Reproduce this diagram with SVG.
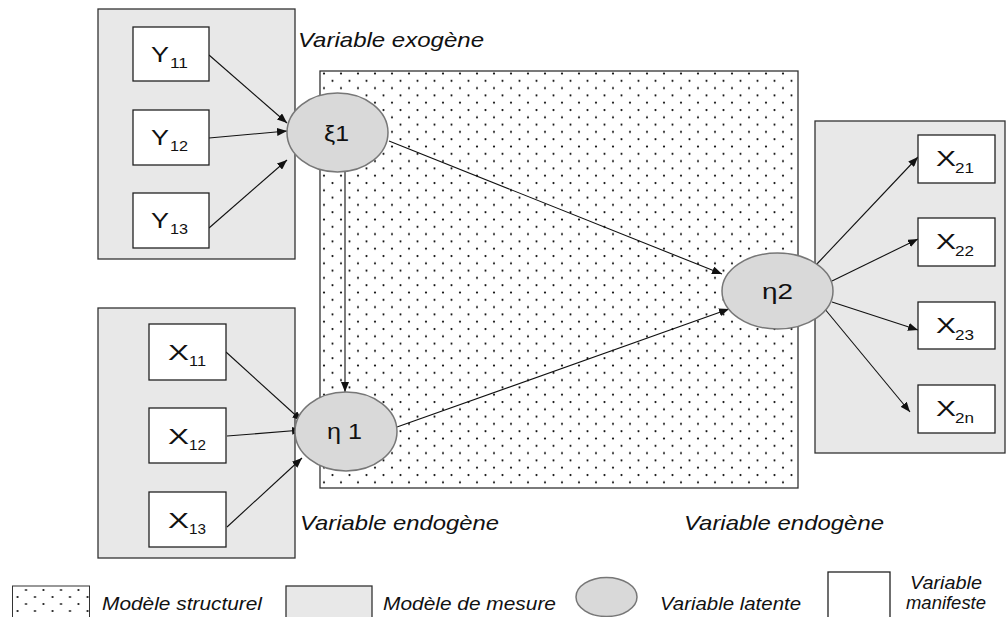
<svg xmlns="http://www.w3.org/2000/svg" width="1008" height="617" viewBox="0 0 1008 617">
<style>
.gbox{fill:#e8e8e8;stroke:#333;stroke-width:1.3}
.mbox{fill:#fff;stroke:#222;stroke-width:1.3}
.lat{fill:#d9d9d9;stroke:#777;stroke-width:1.5}
.conn{stroke:#111;stroke-width:1.1;fill:none;marker-end:url(#ah)}
.t{font-family:"Liberation Sans",Arial,sans-serif;fill:#111}
.big{font-size:22px}
.sub{font-size:15px}
.lab{font-family:"Liberation Sans",Arial,sans-serif;font-style:italic;font-size:21px;fill:#111}
.leg{font-family:"Liberation Sans",Arial,sans-serif;font-style:italic;font-size:17.5px;fill:#111}
</style>
<defs>
<pattern id="dots" width="17" height="14.6" patternUnits="userSpaceOnUse" x="320" y="71">
<rect width="17" height="14.6" fill="#fff"/>
<circle cx="4" cy="2.5" r="1.1" fill="#111"/>
<circle cx="12.5" cy="9.8" r="1.1" fill="#111"/>
</pattern>
<pattern id="dots2" width="17.5" height="14" patternUnits="userSpaceOnUse" x="12" y="586">
<rect width="17.5" height="14" fill="#fff"/>
<circle cx="14" cy="4" r="1.1" fill="#111"/>
<circle cx="5.5" cy="11" r="1.1" fill="#111"/>
</pattern>
<marker id="ah" markerWidth="10" markerHeight="8" refX="10" refY="4" orient="auto" markerUnits="userSpaceOnUse">
<path d="M0,0 L10,4 L0,8 z" fill="#111"/>
</marker>
</defs>
<rect width="1008" height="617" fill="#fff"/>

<g id="regions">
<rect id="mesure-exo" class="gbox" x="98" y="9" width="197" height="250"/>
<rect id="mesure-endo1" class="gbox" x="98" y="308" width="197" height="250"/>
<rect id="structurel" x="320" y="71" width="478" height="417" fill="url(#dots)" stroke="#333" stroke-width="1.3"/>
<rect id="mesure-endo2" class="gbox" x="815" y="121" width="190" height="332"/>
</g>

<g id="connectors">
<line class="conn" x1="209" y1="55" x2="287" y2="123"/>
<line class="conn" x1="209" y1="138" x2="287" y2="131"/>
<line class="conn" x1="209" y1="228" x2="287" y2="160"/>
<line class="conn" x1="226" y1="352" x2="302" y2="421"/>
<line class="conn" x1="227" y1="436" x2="302" y2="430"/>
<line class="conn" x1="227" y1="527" x2="302" y2="458"/>
<line class="conn" x1="345" y1="170" x2="345" y2="392"/>
<line class="conn" x1="389" y1="141" x2="722" y2="274"/>
<line class="conn" x1="397" y1="427" x2="729" y2="309"/>
<line class="conn" x1="815" y1="266" x2="918" y2="157"/>
<line class="conn" x1="832" y1="281" x2="918" y2="239"/>
<line class="conn" x1="832" y1="302" x2="918" y2="330"/>
<line class="conn" x1="824" y1="308" x2="910" y2="412"/>
</g>

<g id="Y11"><rect class="mbox" x="133" y="27" width="76" height="54"/><text class="t big" x="151" y="62" textLength="18" lengthAdjust="spacingAndGlyphs">Y</text><text class="t sub" x="170" y="68" textLength="18" lengthAdjust="spacingAndGlyphs">11</text></g>
<g id="Y12"><rect class="mbox" x="133" y="110" width="76" height="55"/><text class="t big" x="151" y="145" textLength="18" lengthAdjust="spacingAndGlyphs">Y</text><text class="t sub" x="170" y="151" textLength="18" lengthAdjust="spacingAndGlyphs">12</text></g>
<g id="Y13"><rect class="mbox" x="133" y="193" width="76" height="55"/><text class="t big" x="151" y="228" textLength="18" lengthAdjust="spacingAndGlyphs">Y</text><text class="t sub" x="170" y="234" textLength="18" lengthAdjust="spacingAndGlyphs">13</text></g>

<g id="X11"><rect class="mbox" x="149" y="324" width="77" height="56"/><text class="t big" x="168" y="360" textLength="21" lengthAdjust="spacingAndGlyphs">X</text><text class="t sub" x="189" y="366" textLength="17" lengthAdjust="spacingAndGlyphs">11</text></g>
<g id="X12"><rect class="mbox" x="149" y="408" width="77" height="55"/><text class="t big" x="168" y="444" textLength="21" lengthAdjust="spacingAndGlyphs">X</text><text class="t sub" x="189" y="450" textLength="17" lengthAdjust="spacingAndGlyphs">12</text></g>
<g id="X13"><rect class="mbox" x="149" y="492" width="77" height="55"/><text class="t big" x="168" y="528" textLength="21" lengthAdjust="spacingAndGlyphs">X</text><text class="t sub" x="189" y="534" textLength="17" lengthAdjust="spacingAndGlyphs">13</text></g>

<g id="X21"><rect class="mbox" x="918" y="135" width="77" height="48"/><text class="t big" x="936" y="166" textLength="20" lengthAdjust="spacingAndGlyphs">X</text><text class="t sub" x="955" y="173" textLength="19" lengthAdjust="spacingAndGlyphs">21</text></g>
<g id="X22"><rect class="mbox" x="918" y="218" width="77" height="48"/><text class="t big" x="936" y="249" textLength="20" lengthAdjust="spacingAndGlyphs">X</text><text class="t sub" x="955" y="256" textLength="19" lengthAdjust="spacingAndGlyphs">22</text></g>
<g id="X23"><rect class="mbox" x="918" y="302" width="77" height="47"/><text class="t big" x="936" y="333" textLength="20" lengthAdjust="spacingAndGlyphs">X</text><text class="t sub" x="955" y="340" textLength="19" lengthAdjust="spacingAndGlyphs">23</text></g>
<g id="X2n"><rect class="mbox" x="918" y="385" width="77" height="48"/><text class="t big" x="936" y="416" textLength="20" lengthAdjust="spacingAndGlyphs">X</text><text class="t sub" x="955" y="423" textLength="19" lengthAdjust="spacingAndGlyphs">2n</text></g>

<g id="xi1"><ellipse class="lat" cx="337.5" cy="132.5" rx="50.5" ry="39.5"/><text class="t big" x="324" y="141" textLength="25" lengthAdjust="spacingAndGlyphs">ξ1</text></g>
<g id="eta1"><ellipse class="lat" cx="346" cy="431.5" rx="51" ry="39.5"/><text class="t big" x="327" y="439" textLength="35" lengthAdjust="spacingAndGlyphs">η 1</text></g>
<g id="eta2"><ellipse class="lat" cx="777.5" cy="291" rx="55.5" ry="38"/><text class="t big" x="762" y="299" textLength="31" lengthAdjust="spacingAndGlyphs">η2</text></g>

<g id="labels">
<text class="lab" x="298" y="47" textLength="186" lengthAdjust="spacingAndGlyphs">Variable exogène</text>
<text class="lab" x="300" y="530" textLength="199" lengthAdjust="spacingAndGlyphs">Variable endogène</text>
<text class="lab" x="684" y="530" textLength="200" lengthAdjust="spacingAndGlyphs">Variable endogène</text>
</g>

<g id="legend">
<rect x="12.5" y="586" width="77" height="40" fill="url(#dots2)" stroke="#333" stroke-width="1"/>
<text class="leg" x="102" y="610" textLength="160" lengthAdjust="spacingAndGlyphs">Modèle structurel</text>
<rect class="gbox" x="286" y="586" width="86" height="40"/>
<text class="leg" x="383" y="610" textLength="173" lengthAdjust="spacingAndGlyphs">Modèle de mesure</text>
<ellipse class="lat" cx="606.5" cy="597" rx="30.5" ry="19.5"/>
<text class="leg" x="660" y="610" textLength="141" lengthAdjust="spacingAndGlyphs">Variable latente</text>
<rect class="mbox" x="828" y="572" width="62" height="54"/>
<text class="leg" x="910" y="589" textLength="72" lengthAdjust="spacingAndGlyphs">Variable</text>
<text class="leg" x="906" y="609" textLength="80" lengthAdjust="spacingAndGlyphs">manifeste</text>
</g>
</svg>
